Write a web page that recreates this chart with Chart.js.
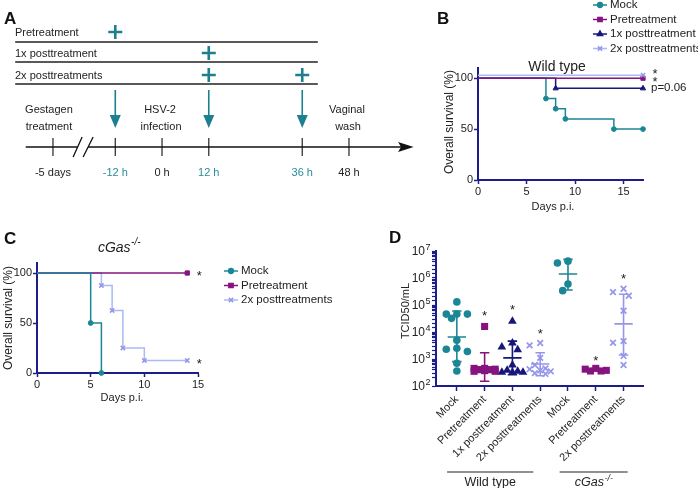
<!DOCTYPE html>
<html>
<head>
<meta charset="utf-8">
<title>HSV-2 treatment, survival and viral titers</title>
<script src="https://cdn.jsdelivr.net/npm/chart.js@4.4.1/dist/chart.umd.min.js"></script>
<style>
  html, body { margin: 0; padding: 0; background: #fff; }
  #page { position: relative; width: 698px; height: 488px; overflow: hidden; font-family: 'Liberation Sans', Arial, sans-serif; }
  canvas { position: absolute; }
  .tag { position: absolute; font-weight: bold; font-size: 17px; line-height: 17px; color: #111; }
</style>
</head>
<body>
<div id="page">
  <canvas id="chartA" width="430" height="185" style="left:0;top:0"></canvas>
  <canvas id="chartB" width="268" height="225" style="left:430px;top:0"></canvas>
  <canvas id="chartC" width="345" height="185" style="left:0;top:225px"></canvas>
  <canvas id="chartD" width="328" height="263" style="left:370px;top:225px"></canvas>
  <div class="tag" style="left:4px;top:10px">A</div>
  <div class="tag" style="left:437px;top:10px">B</div>
  <div class="tag" style="left:4px;top:230px">C</div>
  <div class="tag" style="left:389px;top:229px">D</div>
</div>
<script>
const FONT = "'Liberation Sans', Arial, Helvetica, sans-serif";
Chart.defaults.font.family = FONT;
Chart.defaults.color = '#222';
Chart.defaults.animation = false;
Chart.defaults.plugins.legend.display = false;
Chart.defaults.plugins.tooltip.enabled = false;

const TEAL = '#1b8796', PURPLE = '#86137f', NAVY = '#16167c', LAV = '#9595ec', LAVLINE = '#a8bbf2', AXIS = '#1d1d8a';

// ---- A: treatment schedule (hours from infection, -5 days sits left of the axis break) ----
const regimens = ['Pretreatment', '1x posttreatment', '2x posttreatments'];
const regimenTimes = [[-12], [12], [12, 36]];
const timelineTimes = [-28, -12, 0, 12, 36, 48];
const timelineLabels = ['-5 days', '-12 h', '0 h', '12 h', '36 h', '48 h'];
const treatmentTimes = [-12, 12, 36];
const eventTimes = [-28, 0, 48];
const eventLabels = [['Gestagen', 'treatment'], ['HSV-2', 'infection'], ['Vaginal', 'wash']];

// ---- B: survival, wild type ----
const seriesNames = ['Mock', 'Pretreatment', '1x posttreatment', '2x posttreatments'];
const wtMockDays = [0, 7, 8, 9, 14, 17];
const wtMockSurv = [100, 80, 70, 60, 50, 50];
const wtPreDays = [0, 17];
const wtPreSurv = [100, 100];
const wt1xDays = [0, 8, 17];
const wt1xSurv = [100, 90, 90];
const wt2xDays = [0, 17];
const wt2xSurv = [103, 103];
const wtNotes = ['*', '*', 'p=0.06'];
const wtNoteSeries = [3, 1, 2];

// ---- C: survival, cGas-/- ----
const koMockDays = [0, 5, 6];
const koMockSurv = [100, 50, 0];
const koPreDays = [0, 14];
const koPreSurv = [100, 100];
const ko2xDays = [0, 6, 7, 8, 10, 14];
const ko2xSurv = [100, 87.5, 62.5, 25, 12.5, 12.5];

const dayTicks = [0, 5, 10, 15];
const survTicks = [0, 50, 100];

// ---- D: vaginal wash titers (TCID50/mL) ----
const titerNames = ['Mock', 'Pretreatment', '1x posttreatment', '2x posttreatments', 'Mock', 'Pretreatment', '2x posttreatments'];
const wtMockTiter = [1.3e5, 4.6e4, 4.6e4, 4.6e4, 3.2e4, 5e3, 2.5e3, 2.3e3, 1.9e3, 7e2, 3.6e2];
const wtPreTiter = [1.6e4, 4.5e2, 4.5e2, 4.2e2, 4e2, 4e2, 3.7e2, 3.5e2, 3.5e2];
const wt1xTiter = [2.5e4, 3.9e3, 2.8e3, 2.2e3, 6e2, 3.8e2, 3.5e2, 3.2e2, 3.2e2, 3.2e2];
const wt2xTiter = [3.9e3, 3.2e3, 1.1e3, 6e2, 4.5e2, 4.2e2, 3.8e2, 3.5e2, 3e2, 2.8e2];
const koMockTiter = [4.2e6, 3.6e6, 6e5, 3.4e5];
const koPreTiter = [4.5e2, 4.2e2, 3.8e2, 3.6e2, 3.6e2];
const ko2xTiter = [4e5, 3e5, 2.2e5, 6.1e4, 4.6e3, 4e3, 1.3e3, 6e2];
const titerMean = [6.5e3, 5e2, 1.1e3, 6.5e2, 1.4e6, 4e2, 2e4];
const titerLow = [8e2, 1.5e2, 2.6e2, 2.4e2, 3.6e5, 3.6e2, 1.4e3];
const titerHigh = [6e4, 1.7e3, 4.6e3, 1.7e3, 4.9e6, 4.4e2, 2.5e5];
const starGroups = [1, 2, 3, 5, 6];
const starTiters = [5e4, 8.5e4, 1.1e4, 1.1e3, 1.2e6];

const titerGroups = [wtMockTiter, wtPreTiter, wt1xTiter, wt2xTiter, koMockTiter, koPreTiter, ko2xTiter];
const groupColors = [TEAL, PURPLE, NAVY, LAV, TEAL, PURPLE, LAV];
const groupStyles = ['circle', 'rect', 'triangle', 'crossRot', 'circle', 'rect', 'crossRot'];
const groupRadius = [3.8, 5, 5, 4, 3.8, 5, 4];

// ---------- helpers ----------
function drawText(ctx, t, x, y) {
  ctx.save();
  ctx.translate(x, y);
  if (t.rot) ctx.rotate(t.rot);
  ctx.fillStyle = t.color || '#222';
  ctx.textBaseline = 'middle';
  const size = t.size || 11;
  const style = t.italic ? 'italic ' : '';
  ctx.font = style + size + 'px ' + FONT;
  if (t.star) {
    ctx.textBaseline = 'alphabetic';
    ctx.textAlign = 'center';
    ctx.fillText(t.text, 0, size * 0.55);
  } else if (t.sup) {
    const w1 = ctx.measureText(t.text).width;
    const supSize = Math.round(size * (t.supScale || 0.68));
    ctx.font = style + supSize + 'px ' + FONT;
    const w2 = ctx.measureText(t.sup).width;
    const x0 = t.align === 'left' ? 0 : t.align === 'right' ? -(w1 + w2) : -(w1 + w2) / 2;
    ctx.textAlign = 'left';
    ctx.fillText(t.sup, x0 + w1 + 0.5, -size * 0.38);
    ctx.font = style + size + 'px ' + FONT;
    ctx.fillText(t.text, x0, 0);
  } else {
    ctx.textAlign = t.align || 'center';
    ctx.fillText(t.text, 0, 0);
  }
  ctx.restore();
}

function textLayer(items) {
  return {
    id: 'textLayer',
    afterDraw(chart) {
      const { ctx, scales } = chart;
      items.forEach(t => {
        const x = t.x !== undefined ? scales.x.getPixelForValue(t.x) + (t.dx || 0) : t.px;
        const y = t.y !== undefined ? scales.y.getPixelForValue(t.y) + (t.dy || 0) : t.py;
        drawText(ctx, t, x, y);
      });
    }
  };
}

function markerLegend(x, y0, step) {
  return {
    id: 'markerLegend',
    afterDraw(chart) {
      const ctx = chart.ctx;
      chart.data.datasets.forEach((ds, i) => {
        const y = y0 + i * step;
        ctx.save();
        ctx.strokeStyle = ds.borderColor;
        ctx.lineWidth = 1.5;
        ctx.beginPath(); ctx.moveTo(x, y); ctx.lineTo(x + 14, y); ctx.stroke();
        ctx.fillStyle = ds.pointBackgroundColor;
        ctx.strokeStyle = ds.pointBorderColor;
        Chart.helpers.drawPoint(ctx, { pointStyle: ds.pointStyle, radius: ds.legendRadius, borderWidth: ds.pointBorderWidth, rotation: 0 }, x + 7, y);
        ctx.restore();
        drawText(ctx, { text: ds.label, size: 11.5, align: 'left' }, x + 17, y);
      });
    }
  };
}

function kmSeries(label, days, surv, line, point, style, order) {
  const r = style === 'circle' ? 2.4 : 3;
  return {
    label, order,
    data: days.map((d, i) => ({ x: d, y: surv[i] })),
    stepped: 'before', borderColor: line, borderWidth: 1.5,
    pointStyle: style, pointBackgroundColor: point, pointBorderColor: point,
    pointBorderWidth: style === 'crossRot' ? 1.5 : 1,
    pointRadius: c => (c.dataIndex === 0 ? 0 : r), legendRadius: r,
    clip: false, fill: false
  };
}

function kmScales(xMax, yWidth, xHeight) {
  const grid = () => ({ drawOnChartArea: false, drawTicks: true, tickLength: 4, tickColor: AXIS, tickWidth: 1.5 });
  return {
    x: {
      type: 'linear', min: 0, max: xMax,
      afterBuildTicks: s => { s.ticks = dayTicks.map(v => ({ value: v })); },
      afterFit: s => { s.height = xHeight; },
      grid: grid(), border: { color: AXIS, width: 2 },
      ticks: { font: { size: 11 }, color: '#222', padding: 1, maxRotation: 0, autoSkip: false }
    },
    y: {
      type: 'linear', min: 0, max: 110,
      afterBuildTicks: s => { s.ticks = survTicks.map(v => ({ value: v })); },
      afterFit: s => { s.width = yWidth; },
      grid: grid(), border: { color: AXIS, width: 2 },
      ticks: { font: { size: 11 }, color: '#222', padding: 1, autoSkip: false }
    }
  };
}

// ---------- A ----------
const ROW_TEXT_Y = [33, 54, 76], ROW_LINE_Y = [42, 62, 84], AXIS_Y = 147;
const TEAL_A = '#1d7f90';

const scheduleDraw = {
  id: 'scheduleDraw',
  afterDatasetsDraw(chart) {
    const { ctx, scales: { x, y } } = chart;
    ctx.save();
    // arrows at treatment times
    ctx.strokeStyle = TEAL_A; ctx.fillStyle = TEAL_A; ctx.lineWidth = 1.6;
    treatmentTimes.forEach(t => {
      const cx = x.getPixelForValue(t);
      ctx.beginPath(); ctx.moveTo(cx, y.getPixelForValue(90)); ctx.lineTo(cx, y.getPixelForValue(118)); ctx.stroke();
      ctx.beginPath();
      ctx.moveTo(cx - 5.5, y.getPixelForValue(115));
      ctx.lineTo(cx + 5.5, y.getPixelForValue(115));
      ctx.lineTo(cx, y.getPixelForValue(128));
      ctx.closePath(); ctx.fill();
    });
    // axis arrowhead
    const ay = y.getPixelForValue(AXIS_Y);
    const tip = x.getPixelForValue(64.6), base = x.getPixelForValue(60.6);
    ctx.fillStyle = '#111';
    ctx.beginPath();
    ctx.moveTo(tip, ay); ctx.lineTo(base, ay - 5); ctx.lineTo(base + 3, ay); ctx.lineTo(base, ay + 5);
    ctx.closePath(); ctx.fill();
    // axis break
    const bx = x.getPixelForValue(-20);
    ctx.strokeStyle = '#111'; ctx.lineWidth = 1.3;
    ctx.beginPath();
    ctx.moveTo(bx - 11, ay + 10); ctx.lineTo(bx - 2, ay - 10);
    ctx.moveTo(bx - 1, ay + 10); ctx.lineTo(bx + 9, ay - 10);
    ctx.stroke();
    ctx.restore();
  }
};

const aTexts = [];
regimens.forEach((r, i) => aTexts.push({ text: r, px: 15, py: ROW_TEXT_Y[i], align: 'left', size: 11 }));
timelineTimes.forEach((t, i) => aTexts.push({
  text: timelineLabels[i], x: t, py: 173, size: 11,
  color: treatmentTimes.includes(t) ? '#2a8c9c' : '#222'
}));
eventTimes.forEach((t, i) => {
  aTexts.push({ text: eventLabels[i][0], x: t, dx: i === 0 ? -4 : -2, py: 110, size: 11 });
  aTexts.push({ text: eventLabels[i][1], x: t, dx: i === 0 ? -4 : -1, py: 127, size: 11 });
});

new Chart(document.getElementById('chartA'), {
  type: 'scatter',
  data: {
    datasets: [
      ...regimens.map((_, i) => ({
        data: [{ x: -37.7, y: ROW_LINE_Y[i] }, { x: 40, y: ROW_LINE_Y[i] }],
        showLine: true, borderColor: '#222', borderWidth: 1.4, pointRadius: 0
      })),
      {
        data: regimenTimes.flatMap((ts, i) => ts.map(t => ({ x: t, y: ROW_TEXT_Y[i] - 1 }))),
        pointStyle: 'cross', pointRadius: 7, pointBorderWidth: 2.6, pointBorderColor: TEAL_A, showLine: false
      },
      { data: [{ x: -35, y: AXIS_Y }, { x: -21.7, y: AXIS_Y }], showLine: true, borderColor: '#111', borderWidth: 1.4, pointRadius: 0 },
      { data: [{ x: -19, y: AXIS_Y }, { x: 61.5, y: AXIS_Y }], showLine: true, borderColor: '#111', borderWidth: 1.4, pointRadius: 0 },
      {
        data: timelineTimes.map(t => ({ x: t, y: AXIS_Y })),
        pointStyle: 'line', pointRotation: 90, pointRadius: 9, pointBorderWidth: 1.3, pointBorderColor: '#333', showLine: false
      }
    ]
  },
  options: {
    responsive: false, devicePixelRatio: 1,
    layout: { padding: 0, autoPadding: false },
    scales: {
      x: { type: 'linear', display: false, min: -41.6, max: 68.8 },
      y: { type: 'linear', display: false, min: 0, max: 185, reverse: true }
    }
  },
  plugins: [scheduleDraw, textLayer(aTexts)]
});

// ---------- B ----------
const bSeries = [
  kmSeries(seriesNames[0], wtMockDays, wtMockSurv, TEAL, TEAL, 'circle', 3),
  kmSeries(seriesNames[1], wtPreDays, wtPreSurv, PURPLE, PURPLE, 'rect', 1),
  kmSeries(seriesNames[2], wt1xDays, wt1xSurv, NAVY, NAVY, 'triangle', 2),
  kmSeries(seriesNames[3], wt2xDays, wt2xSurv, LAVLINE, LAV, 'crossRot', 0)
];
const bNoteDy = [-4, 1, -1];
const bTexts = [
  { text: 'Wild type', px: 127, py: 67, size: 14 },
  { text: 'Overall survival (%)', px: 20, py: 122, size: 12, rot: -Math.PI / 2 },
  { text: 'Days p.i.', px: 123, py: 207, size: 11 }
];
wtNotes.forEach((n, i) => {
  const s = bSeries[wtNoteSeries[i]].data;
  const last = s[s.length - 1];
  bTexts.push(n === '*'
    ? { text: n, x: last.x, y: last.y, dx: 12, dy: bNoteDy[i], star: true, size: 13 }
    : { text: n, x: last.x, y: last.y, dx: 8, dy: bNoteDy[i], align: 'left', size: 11.5 });
});

new Chart(document.getElementById('chartB'), {
  type: 'line',
  data: { datasets: bSeries },
  options: {
    responsive: false, devicePixelRatio: 1,
    layout: { padding: { left: 0, right: 55, top: 68, bottom: 0 }, autoPadding: false },
    scales: kmScales(17, 48, 45)
  },
  plugins: [markerLegend(163, 5, 14.5), textLayer(bTexts)]
});

// ---------- C ----------
new Chart(document.getElementById('chartC'), {
  type: 'line',
  data: {
    datasets: [
      kmSeries(seriesNames[0], koMockDays, koMockSurv, TEAL, TEAL, 'circle', 0),
      kmSeries(seriesNames[1], koPreDays, koPreSurv, PURPLE, PURPLE, 'rect', 1),
      kmSeries(seriesNames[3], ko2xDays, ko2xSurv, LAVLINE, LAV, 'crossRot', 2)
    ]
  },
  options: {
    responsive: false, devicePixelRatio: 1,
    layout: { padding: { left: 0, right: 147, top: 38, bottom: 0 }, autoPadding: false },
    scales: kmScales(15, 37, 37)
  },
  plugins: [markerLegend(224, 46, 14.5), textLayer([
    { text: 'cGas', sup: '-/-', italic: true, px: 119, py: 23, size: 14 },
    { text: 'Overall survival (%)', px: 9, py: 93, size: 12, rot: -Math.PI / 2 },
    { text: 'Days p.i.', px: 122, py: 173, size: 11 },
    { text: '*', x: koPreDays[koPreDays.length - 1], y: koPreSurv[koPreSurv.length - 1], dx: 12, star: true, size: 13 },
    { text: '*', x: ko2xDays[ko2xDays.length - 1], y: ko2xSurv[ko2xSurv.length - 1], dx: 12, star: true, size: 13 }
  ])]
});

// ---------- D ----------
function swarm(values, center) {
  const d = 0.19, slots = [0, -d, d, -2 * d, 2 * d];
  const placed = [];
  return values.map(v => {
    const ly = Math.log10(v) * 27;
    let best = slots[0], bestGap = -1;
    for (const s of slots) {
      const gap = placed.reduce((m, p) => Math.min(m, Math.hypot((p.s - s) * 28, p.ly - ly)), Infinity);
      if (gap >= 7.5) { best = s; break; }
      if (gap > bestGap) { best = s; bestGap = gap; }
    }
    placed.push({ s: best, ly });
    return { x: center + best, y: v };
  });
}

const errorBars = {
  id: 'errorBars',
  afterDatasetsDraw(chart) {
    const { ctx, scales: { x, y } } = chart;
    titerMean.forEach((m, i) => {
      const cx = x.getPixelForValue(i);
      const yl = y.getPixelForValue(titerLow[i]), yh = y.getPixelForValue(titerHigh[i]), ym = y.getPixelForValue(m);
      const half = x.getPixelForValue(i + 0.33) - cx, cap = x.getPixelForValue(i + 0.17) - cx;
      ctx.save();
      ctx.strokeStyle = groupColors[i]; ctx.lineWidth = 1.6;
      ctx.beginPath();
      ctx.moveTo(cx, yh); ctx.lineTo(cx, yl);
      ctx.moveTo(cx - half, ym); ctx.lineTo(cx + half, ym);
      ctx.moveTo(cx - cap, yh); ctx.lineTo(cx + cap, yh);
      ctx.moveTo(cx - cap, yl); ctx.lineTo(cx + cap, yl);
      ctx.stroke();
      ctx.restore();
    });
    starGroups.forEach((g, i) => drawText(ctx, { text: '*', star: true, size: 13 }, x.getPixelForValue(g), y.getPixelForValue(starTiters[i])));
  }
};

// decade labels 10^n with a real superscript exponent
const decadeLabels = {
  id: 'decadeLabels',
  afterDraw(chart) {
    const { ctx, scales: { y } } = chart;
    y.ticks.forEach(t => {
      const e = Math.log10(t.value), r = Math.round(e);
      if (Math.abs(e - r) > 1e-6) return;
      drawText(ctx, { text: '10', sup: String(r), size: 12, supScale: 0.75, align: 'right' }, y.right - 6, y.getPixelForValue(t.value) + 1);
    });
  }
};

const groupSpans = [{ label: 'Wild type', from: -0.35, to: 2.75 }, { label: 'cGas', sup: '-/-', from: 3.7, to: 6.15 }];
const groupLines = {
  id: 'groupLines',
  afterDraw(chart) {
    const { ctx, scales: { x } } = chart;
    groupSpans.forEach(g => {
      const x0 = x.getPixelForValue(g.from), x1 = x.getPixelForValue(g.to);
      ctx.save();
      ctx.strokeStyle = '#222'; ctx.lineWidth = 1.2;
      ctx.beginPath(); ctx.moveTo(x0, 247); ctx.lineTo(x1, 247); ctx.stroke();
      ctx.restore();
      drawText(ctx, { text: g.label, sup: g.sup, italic: !!g.sup, size: 12.5 }, (x0 + x1) / 2, 258);
    });
  }
};

new Chart(document.getElementById('chartD'), {
  type: 'scatter',
  data: {
    datasets: titerGroups.map((vals, i) => ({
      label: titerNames[i],
      data: swarm(vals, i),
      pointStyle: groupStyles[i], pointRadius: groupRadius[i],
      pointBackgroundColor: groupColors[i], pointBorderColor: groupColors[i],
      pointBorderWidth: groupStyles[i] === 'crossRot' ? 1.7 : 0,
      clip: false
    }))
  },
  options: {
    responsive: false, devicePixelRatio: 1,
    layout: { padding: { left: 0, right: 55, top: 26, bottom: 0 }, autoPadding: false },
    scales: {
      x: {
        type: 'linear', min: -0.75, max: 6.7,
        afterBuildTicks: s => { s.ticks = titerNames.map((_, i) => ({ value: i })); },
        afterFit: s => { s.height = 102; },
        grid: { drawOnChartArea: false, tickLength: 5, tickColor: AXIS, tickWidth: 1.5 },
        border: { color: AXIS, width: 2 },
        ticks: { callback: v => titerNames[v], minRotation: 45, maxRotation: 45, autoSkip: false, font: { size: 11 }, padding: 2, color: '#222' }
      },
      y: {
        type: 'logarithmic', min: 1e2, max: 1e7,
        afterFit: s => { s.width = 66; },
        grid: { drawOnChartArea: false, tickLength: 4, tickColor: AXIS, tickWidth: 1.2 },
        border: { color: AXIS, width: 2 },
        ticks: { autoSkip: false, callback: () => '' }
      }
    }
  },
  plugins: [errorBars, groupLines, decadeLabels, textLayer([
    { text: 'TCID50/mL', px: 36, py: 86, size: 11, rot: -Math.PI / 2 }
  ])]
});
</script>
</body>
</html>
